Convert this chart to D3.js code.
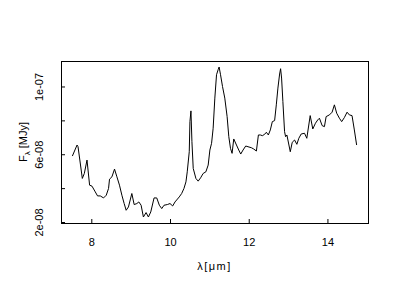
<!DOCTYPE html>
<html>
<head>
<meta charset="utf-8">
<script src="https://cdn.jsdelivr.net/npm/d3@7"></script>
<style>
  body { margin: 0; background: #fff; }
  svg { display: block; }
  text { font-family: "Liberation Sans", Arial, sans-serif; font-size: 11px; fill: #000; }
</style>
</head>
<body>
<svg width="400" height="300"></svg>
<script>
// wavelength (micron)
const wavelength = [7.519, 7.638, 7.663, 7.772, 7.823, 7.891, 7.957, 8.018, 8.101, 8.159,
  8.228, 8.311, 8.380, 8.438, 8.463, 8.524, 8.590, 8.651, 8.716, 8.777,
  8.835, 8.886, 8.944, 9.030, 9.089, 9.157, 9.208, 9.266, 9.324, 9.392,
  9.451, 9.511, 9.595, 9.663, 9.729, 9.790, 9.848, 9.932, 10.000, 10.068,
  10.127, 10.235, 10.296, 10.354, 10.405, 10.438, 10.489, 10.506, 10.532, 10.557,
  10.590, 10.658, 10.716, 10.777, 10.843, 10.911, 10.970, 11.013, 11.056, 11.096,
  11.139, 11.182, 11.223, 11.248, 11.284, 11.334, 11.392, 11.451, 11.494, 11.537,
  11.577, 11.620, 11.689, 11.747, 11.797, 11.856, 11.924, 11.982, 12.068, 12.127,
  12.195, 12.246, 12.296, 12.347, 12.405, 12.448, 12.499, 12.549, 12.600, 12.658,
  12.701, 12.742, 12.785, 12.810, 12.835, 12.868, 12.911, 12.937, 12.970, 13.056,
  13.106, 13.165, 13.223, 13.273, 13.334, 13.418, 13.476, 13.562, 13.628, 13.696,
  13.754, 13.797, 13.866, 13.924, 13.967, 14.051, 14.119, 14.177, 14.235, 14.304,
  14.362, 14.430, 14.499, 14.557, 14.625, 14.684, 14.742];

// flux in units of 1e-8 MJy
const fluxE8 = [5.893, 6.545, 6.444, 4.572, 4.868, 5.656, 4.175, 4.116, 3.778, 3.541,
  3.541, 3.422, 3.582, 3.979, 4.530, 4.667, 5.123, 4.667, 4.175, 3.582,
  3.090, 2.693, 2.889, 3.683, 3.031, 3.090, 3.185, 2.990, 2.296, 2.557,
  2.296, 2.593, 3.422, 3.422, 2.990, 2.794, 2.990, 3.031, 3.090, 2.948,
  3.185, 3.481, 3.683, 3.979, 4.370, 4.963, 6.148, 7.926, 8.560, 6.741,
  5.164, 4.572, 4.412, 4.607, 4.868, 4.963, 5.360, 6.249, 6.646, 7.535,
  9.313, 10.693, 10.990, 11.150, 10.693, 10.000, 9.313, 8.222, 7.037, 6.350,
  6.053, 6.901, 6.545, 6.249, 6.012, 6.249, 6.486, 6.444, 6.385, 6.308,
  6.190, 7.138, 7.138, 7.096, 7.179, 7.298, 7.138, 7.434, 7.926, 7.985,
  8.916, 9.905, 10.735, 11.049, 10.498, 9.111, 7.333, 7.037, 7.138, 6.148,
  6.705, 6.841, 6.587, 6.942, 7.197, 7.239, 6.942, 8.281, 7.493, 7.831,
  8.027, 8.127, 7.689, 7.630, 8.222, 8.323, 8.483, 8.916, 8.424, 8.127,
  7.926, 8.163, 8.483, 8.323, 8.281, 7.434, 6.545];

const xTicks = [8, 10, 12, 14];
const yTicks = [2e-8, 4e-8, 6e-8, 8e-8, 1e-7];
const yTickLabels = ["2e-08", "", "6e-08", "", "1e-07"];

const data = wavelength.map((w, i) => ({ w: w, f: fluxE8[i] * 1e-8 }));

const margin = { top: 61, right: 32, bottom: 77, left: 61 },
      width = 400 - margin.left - margin.right,
      height = 300 - margin.top - margin.bottom;

const svg = d3.select('svg');
const g = svg.append('g').attr('transform', 'translate(' + margin.left + ',' + margin.top + ')');

// R style 4% padding on each side
function pad(ext) {
  const d = (ext[1] - ext[0]) * 0.04;
  return [ext[0] - d, ext[1] + d];
}

const x = d3.scaleLinear()
  .domain(pad(d3.extent(data, d => d.w)))
  .range([0, width]);

const y = d3.scaleLinear()
  .domain(pad(d3.extent(data, d => d.f)))
  .range([height, 0]);

// ticks point into the box
const xAxis = g.append('g')
  .attr('transform', 'translate(0,' + height + ')')
  .call(d3.axisBottom(x).tickValues(xTicks).tickSizeInner(-4).tickSizeOuter(0).tickPadding(15));
xAxis.select('.domain').remove();
xAxis.selectAll('line').attr('stroke', '#000');
xAxis.selectAll('text').style('font-size', '11px').attr('font-family', null);

const yAxis = g.append('g')
  .call(d3.axisLeft(y).tickValues(yTicks).tickFormat((d, i) => yTickLabels[i])
    .tickSizeInner(-4).tickSizeOuter(0).tickPadding(0));
yAxis.select('.domain').remove();
yAxis.selectAll('line').attr('stroke', '#000');
yAxis.selectAll('text')
  .attr('x', null).attr('dy', null)
  .attr('font-family', null)
  .style('font-size', '11px')
  .style('text-anchor', 'middle')
  .attr('transform', 'translate(-22,0) rotate(-90)')
  .attr('y', 4);

// box
g.append('rect')
  .attr('x', 0).attr('y', 0)
  .attr('width', width).attr('height', height)
  .attr('fill', 'none')
  .attr('stroke', '#000')
  .attr('shape-rendering', 'crispEdges');

const line = d3.line()
  .x(d => x(d.w))
  .y(d => y(d.f));

g.append('path')
  .datum(data)
  .attr('fill', 'none')
  .attr('stroke', '#000')
  .attr('stroke-width', 1)
  .attr('d', line);

// axis titles
g.append('text')
  .attr('x', width / 2)
  .attr('y', height + 47)
  .style('text-anchor', 'middle')
  .style('letter-spacing', '1.5px')
  .text('λ[μm]');

const yl = g.append('text')
  .attr('transform', 'translate(-34,' + (height / 2) + ') rotate(-90)')
  .style('text-anchor', 'middle');
yl.append('tspan').text('F');
yl.append('tspan').attr('dy', 3).style('font-size', '8px').text('λ');
yl.append('tspan').attr('dy', -3).text(' [MJy]');
</script>
</body>
</html>
